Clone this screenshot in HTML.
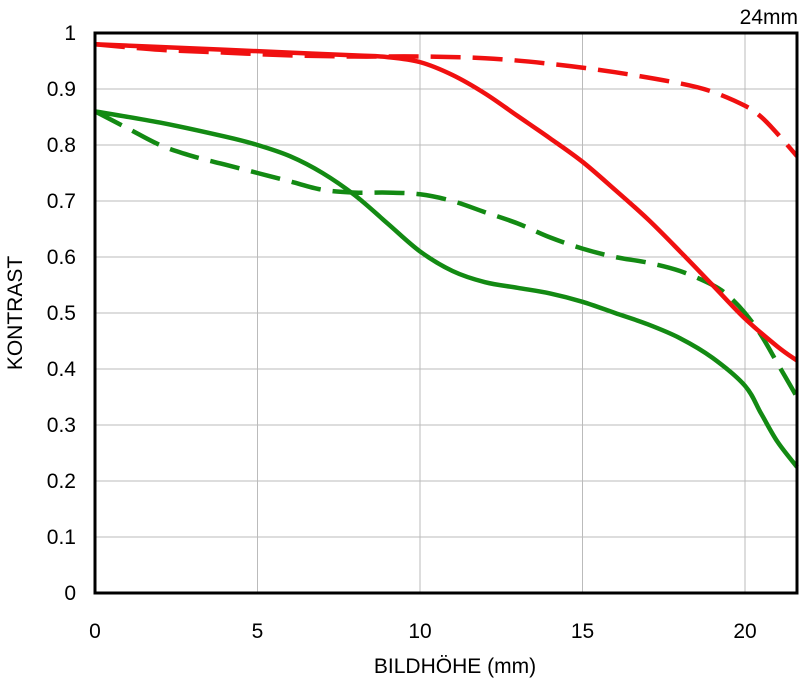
<!DOCTYPE html>
<html><head><meta charset="utf-8"><style>
html,body{margin:0;padding:0;background:#fff;}
svg{display:block;font-family:"Liberation Sans",sans-serif;}
</style></head><body>
<svg id="chart" width="800" height="685">
<g id="grid"></g>
<g id="series"></g>
<rect x="95" y="33" width="702" height="560" fill="none" stroke="#000" stroke-width="3"/>
<g id="ticks"></g>
<text x="798" y="24" text-anchor="end" font-size="21">24mm</text>
<text x="455" y="673" text-anchor="middle" font-size="21">BILDHÖHE (mm)</text>
<text transform="translate(22,313) rotate(-90)" text-anchor="middle" font-size="21">KONTRAST</text>
</svg>
<script>
const xTicks=[0,5,10,15,20];
const yTicks=[0,0.1,0.2,0.3,0.4,0.5,0.6,0.7,0.8,0.9,1];
const yTickLabels=["0","0.1","0.2","0.3","0.4","0.5","0.6","0.7","0.8","0.9","1"];
const redSolidX=[0,2,4,6,8,9,10,11,12,13,14,15,16,17,18,19,20,21,21.6];
const redSolidY=[0.98,0.975,0.97,0.965,0.96,0.957,0.948,0.925,0.892,0.852,0.812,0.77,0.72,0.668,0.61,0.55,0.49,0.44,0.415];
const redDashX=[0,2,4,6,8,10,12,14,16,18,19,20,20.5,21,21.6];
const redDashY=[0.98,0.97,0.965,0.96,0.958,0.958,0.955,0.945,0.93,0.91,0.895,0.87,0.85,0.82,0.78];
const greenSolidX=[0,2,4,5,6,7,8,9,10,11,12,13,14,15,16,17,18,19,20,20.5,21,21.6];
const greenSolidY=[0.86,0.84,0.815,0.8,0.78,0.75,0.71,0.66,0.61,0.575,0.555,0.545,0.535,0.52,0.5,0.48,0.455,0.42,0.37,0.32,0.27,0.225];
const greenDashX=[0,1,2,3,4,5,6,7,8,9,10,11,12,13,14,15,16,17,18,19,19.5,20,20.5,21,21.6];
const greenDashY=[0.86,0.83,0.8,0.78,0.765,0.75,0.735,0.72,0.715,0.715,0.712,0.7,0.68,0.66,0.635,0.615,0.6,0.59,0.575,0.55,0.53,0.5,0.46,0.41,0.35];

const NS="http://www.w3.org/2000/svg";
const X0=95,X1=797,Y0=593,Y1=33,XMAX=21.6;
function sx(v){return X0+v/XMAX*(X1-X0);}
function sy(v){return Y0-v*(Y0-Y1);}
const grid=document.getElementById('grid'),ticks=document.getElementById('ticks'),ser=document.getElementById('series');
xTicks.forEach(t=>{
  const l=document.createElementNS(NS,'line');
  
  
  l.setAttribute('x1',sx(t));l.setAttribute('x2',sx(t));l.setAttribute('y1',Y1);l.setAttribute('y2',Y0);
  l.setAttribute('stroke','#bbb');l.setAttribute('stroke-width','1');grid.appendChild(l);
  const tx=document.createElementNS(NS,'text');
  
  
  tx.setAttribute('x',sx(t));tx.setAttribute('y',638);tx.setAttribute('text-anchor','middle');tx.setAttribute('font-size','21');
  tx.textContent=String(t);ticks.appendChild(tx);
});
yTicks.forEach((t,i)=>{
  const l=document.createElementNS(NS,'line');
  
  
  l.setAttribute('x1',X0);l.setAttribute('x2',X1);l.setAttribute('y1',sy(t));l.setAttribute('y2',sy(t));
  l.setAttribute('stroke','#bbb');l.setAttribute('stroke-width','1');grid.appendChild(l);
  const tx=document.createElementNS(NS,'text');
  
  
  tx.setAttribute('x',76);tx.setAttribute('y',sy(t)+7);tx.setAttribute('text-anchor','end');tx.setAttribute('font-size','21');
  tx.textContent=yTickLabels[i];ticks.appendChild(tx);
});
function pathD(xs,ys){
  const p=xs.map((x,i)=>[sx(x),sy(ys[i])]);
  let d='M'+p[0][0]+','+p[0][1];
  for(let i=0;i<p.length-1;i++){
    const a=p[i-1]||p[i],b=p[i],c=p[i+1],e=p[i+2]||c;
    d+=' C'+(b[0]+(c[0]-a[0])/6)+','+(b[1]+(c[1]-a[1])/6)+' '+(c[0]-(e[0]-b[0])/6)+','+(c[1]-(e[1]-b[1])/6)+' '+c[0]+','+c[1];
  }
  return d;
}
function addSeries(name,xs,ys,color,dash){
  const pa=document.createElementNS(NS,'path');
  
  
  pa.setAttribute('d',pathD(xs,ys));pa.setAttribute('fill','none');pa.setAttribute('stroke',color);
  pa.setAttribute('stroke-width','4.5');
  if(dash)pa.setAttribute('stroke-dasharray','30 12');
  ser.appendChild(pa);
}
addSeries('green-dashed-line',greenDashX,greenDashY,'#138a13',true);
addSeries('green-solid-line',greenSolidX,greenSolidY,'#138a13',false);
addSeries('red-dashed-line',redDashX,redDashY,'#f01010',true);
addSeries('red-solid-line',redSolidX,redSolidY,'#f01010',false);
</script>
</body></html>
